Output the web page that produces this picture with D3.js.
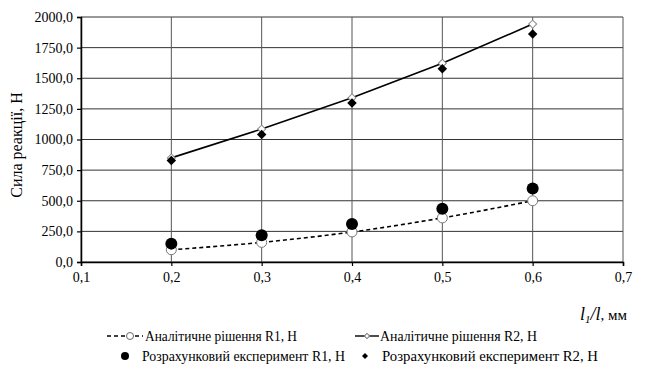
<!DOCTYPE html>
<html>
<head>
<meta charset="utf-8">
<script src="https://cdn.jsdelivr.net/npm/d3@7"></script>
</head>
<body style="margin:0;background:#fff">
<div id="chart"></div>
<script>
// data
var xs = [0.2, 0.3, 0.4, 0.5, 0.6];
var r1Analytic = [100, 160, 245, 360, 500];
var r2Analytic = [850, 1085, 1340, 1622, 1942];
var r1Exp = [150, 218, 310, 435, 600];
var r2Exp = [828, 1040, 1298, 1578, 1862];
var xTicks = [0.1, 0.2, 0.3, 0.4, 0.5, 0.6, 0.7];
var yTicks = [0, 250, 500, 750, 1000, 1250, 1500, 1750, 2000];
var legendNames = ["Аналітичне рішення R1, Н", "Аналітичне рішення R2, Н",
    "Розрахунковий експеримент R1, Н", "Розрахунковий експеримент R2, Н"];

var width = 645, height = 365;
var margin = { top: 17, left: 81, right: 22, bottom: 103 };
var FONT = '"Liberation Serif"';

var svg = d3.select("#chart").append("svg")
    .attr("width", width)
    .attr("height", height);

var x = d3.scaleLinear().domain([0.1, 0.7]).range([margin.left, width - margin.right]);
var y = d3.scaleLinear().domain([0, 2000]).range([height - margin.bottom, margin.top]);

var fmt = d => d3.format(".1f")(d).replace(".", ",");

// grid
svg.append("g")
    .selectAll("line")
    .data(yTicks)
    .enter().append("line")
    .attr("x1", x(0.1)).attr("x2", x(0.7))
    .attr("y1", d => y(d)).attr("y2", d => y(d))
    .attr("stroke", "#333").attr("stroke-width", 1);
svg.append("g")
    .selectAll("line")
    .data(xTicks)
    .enter().append("line")
    .attr("x1", d => x(d)).attr("x2", d => x(d))
    .attr("y1", y(0)).attr("y2", y(2000))
    .attr("stroke", "#555").attr("stroke-width", 1);

// axes
var yAxis = svg.append("g")
    .attr("transform", `translate(${x(0.1)},0)`)
    .call(d3.axisLeft(y).tickValues(yTicks).tickFormat(fmt).tickSize(4).tickPadding(4));
var xAxis = svg.append("g")
    .attr("transform", `translate(0,${y(0)})`)
    .call(d3.axisBottom(x).tickValues(xTicks).tickFormat(fmt).tickSize(4).tickPadding(6));
[yAxis, xAxis].forEach(a => {
    a.select(".domain").attr("stroke", "#000").attr("stroke-width", 1.5);
    a.selectAll(".tick line").attr("stroke", "#000").attr("stroke-width", 1.2);
    a.selectAll("text")
        .style("font-family", FONT)
        .style("font-size", "14px")
        .attr("fill", "#000");
});

// axis titles
svg.append("text")
    .attr("transform", "translate(22,145) rotate(-90)")
    .attr("text-anchor", "middle")
    .style("font-family", FONT)
    .style("font-size", "16px")
    .text("Сила реакції, Н");

var xt = svg.append("text")
    .attr("x", 580).attr("y", 320)
    .style("font-family", FONT)
    .style("font-size", "18px");
xt.append("tspan").style("font-style", "italic").text("l");
xt.append("tspan").style("font-style", "italic").style("font-size", "11px").attr("dy", 3).text("1");
xt.append("tspan").style("font-style", "italic").attr("dy", -3).text("/l");
xt.append("tspan").style("font-size", "15px").text(", мм");

// lines
var pts = v => xs.map((d, i) => [x(d), y(v[i])]);
svg.append("path")
    .attr("d", d3.line().curve(d3.curveMonotoneX)(pts(r1Analytic)))
    .attr("fill", "none").attr("stroke", "#000")
    .attr("stroke-width", 1.6).attr("stroke-dasharray", "4,3");
svg.append("path")
    .attr("d", d3.line()(pts(r2Analytic)))
    .attr("fill", "none").attr("stroke", "#000")
    .attr("stroke-width", 1.6);

// diamond = square turned 45 deg
var diamond = s => d3.symbol().type(d3.symbolSquare).size(s)();

// markers
svg.append("g").selectAll("circle")
    .data(pts(r1Analytic)).enter().append("circle")
    .attr("cx", d => d[0]).attr("cy", d => d[1]).attr("r", 5)
    .attr("fill", "#fff").attr("stroke", "#777").attr("stroke-width", 1);
svg.append("g").selectAll("path")
    .data(pts(r2Analytic)).enter().append("path")
    .attr("d", diamond(32))
    .attr("transform", d => `translate(${d}) rotate(45)`)
    .attr("fill", "#fff").attr("stroke", "#888").attr("stroke-width", 1);
svg.append("g").selectAll("circle")
    .data(pts(r1Exp)).enter().append("circle")
    .attr("cx", d => d[0]).attr("cy", d => d[1]).attr("r", 6)
    .attr("fill", "#000");
svg.append("g").selectAll("path")
    .data(pts(r2Exp)).enter().append("path")
    .attr("d", diamond(45))
    .attr("transform", d => `translate(${d}) rotate(45)`)
    .attr("fill", "#000");

// legend
var lg = svg.append("g");
var legendRows = [
    { mx: 130, my: 336, tx: 145, tw: 152 },
    { mx: 367, my: 336, tx: 380, tw: 157 },
    { mx: 125, my: 356, tx: 142, tw: 203 },
    { mx: 365, my: 356, tx: 382, tw: 216 }
];
legendRows.forEach((r, i) => {
    if (i == 0) {
        lg.append("line").attr("x1", 107).attr("x2", 143).attr("y1", r.my).attr("y2", r.my)
            .attr("stroke", "#000").attr("stroke-width", 1.4).attr("stroke-dasharray", "4,3");
        lg.append("circle").attr("cx", r.mx).attr("cy", r.my).attr("r", 3.5)
            .attr("fill", "#fff").attr("stroke", "#666");
    } else if (i == 1) {
        lg.append("line").attr("x1", 355).attr("x2", 379).attr("y1", r.my).attr("y2", r.my)
            .attr("stroke", "#000").attr("stroke-width", 1.4);
        lg.append("path").attr("d", diamond(14))
            .attr("transform", `translate(${r.mx},${r.my}) rotate(45)`)
            .attr("fill", "#fff").attr("stroke", "#777");
    } else if (i == 2) {
        lg.append("circle").attr("cx", r.mx).attr("cy", r.my).attr("r", 4).attr("fill", "#000");
    } else {
        lg.append("path").attr("d", diamond(18))
            .attr("transform", `translate(${r.mx},${r.my}) rotate(45)`).attr("fill", "#000");
    }
    lg.append("text")
        .attr("x", r.tx).attr("y", r.my + 4.5)
        .style("font-family", FONT)
        .style("font-size", "15px")
        .attr("textLength", r.tw).attr("lengthAdjust", "spacingAndGlyphs")
        .text(legendNames[i]);
});
</script>
</body>
</html>
